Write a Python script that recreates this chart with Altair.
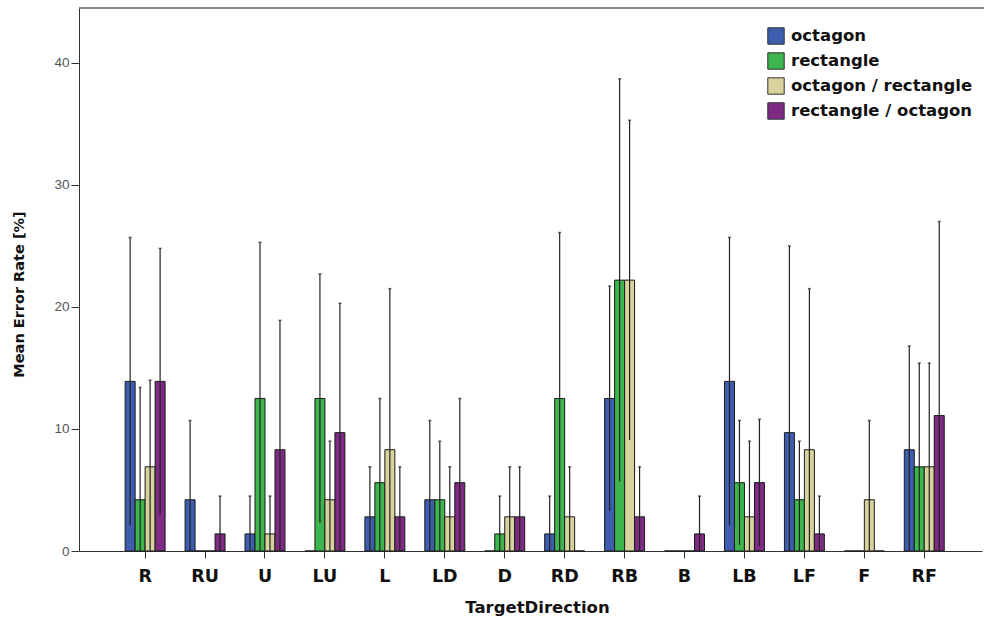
import altair as alt
import pandas as pd

categories = ["R", "RU", "U", "LU", "L", "LD", "D", "RD", "RB", "B", "LB", "LF", "F", "RF"]
series = ["octagon", "rectangle", "octagon / rectangle", "rectangle / octagon"]
colors = ["#3E5DAE", "#3CB54D", "#D8D29C", "#7D2B83"]

# mean error rate [%]
octagon = [13.9, 4.2, 1.4, 0.0, 2.8, 4.2, 0.0, 1.4, 12.5, 0.0, 13.9, 9.7, 0.0, 8.3]
rectangle = [4.2, 0.0, 12.5, 12.5, 5.6, 4.2, 1.4, 12.5, 22.2, 0.0, 5.6, 4.2, 0.0, 6.9]
octagon_rectangle = [6.9, 0.0, 1.4, 4.2, 8.3, 2.8, 2.8, 2.8, 22.2, 0.0, 2.8, 8.3, 4.2, 6.9]
rectangle_octagon = [13.9, 1.4, 8.3, 9.7, 2.8, 5.6, 2.8, 0.0, 2.8, 1.4, 5.6, 1.4, 0.0, 11.1]

# upper end of error bars (None = no error bar)
octagon_hi = [25.7, 10.7, 4.5, None, 6.9, 10.7, None, 4.5, 21.7, None, 25.7, 25.0, None, 16.8]
rectangle_hi = [13.4, None, 25.3, 22.7, 12.5, 9.0, 4.5, 26.1, 38.7, None, 10.7, 9.0, None, 15.4]
octagon_rectangle_hi = [14.0, None, 4.5, 9.0, 21.5, 6.9, 6.9, 6.9, 35.3, None, 9.0, 21.5, 10.7, 15.4]
rectangle_octagon_hi = [24.8, 4.5, 18.9, 20.3, 6.9, 12.5, 6.9, None, 6.9, 4.5, 10.8, 4.5, None, 27.0]

means = [octagon, rectangle, octagon_rectangle, rectangle_octagon]
highs = [octagon_hi, rectangle_hi, octagon_rectangle_hi, rectangle_octagon_hi]

rows = []
for s, m_list, h_list in zip(series, means, highs):
    for c, m, h in zip(categories, m_list, h_list):
        lo = None if h is None else max(0.0, 2 * m - h)
        rows.append({"TargetDirection": c, "series": s, "mean": m, "hi": h, "lo": lo})
df = pd.DataFrame(rows)
err = df.dropna(subset=["hi"])

W, H = 903, 543
YMAX = 44.5

x_scale = alt.Scale(paddingInner=1 / 3, paddingOuter=0.7, align=0.55)
x_axis = alt.Axis(
    title="TargetDirection",
    labelAngle=0,
    labelFont="DejaVu Sans",
    labelFontWeight="bold",
    labelFontSize=17.5,
    labelColor="#111",
    labelPadding=9,
    tickSize=7,
    tickColor="#333",
    domainColor="#333",
    titleFont="DejaVu Sans",
    titleFontWeight="bold",
    titleFontSize=16.5,
    titleColor="#111",
    titleX=458,
    titleY=56,
    titleAlign="center",
    titleBaseline="middle",
)
y_axis = alt.Axis(
    title="Mean Error Rate [%]",
    values=[0, 10, 20, 30, 40],
    labelFont="Liberation Sans",
    labelFontSize=13.5,
    labelColor="#555",
    labelPadding=2,
    tickSize=8,
    tickColor="#333",
    domainColor="#333",
    titleFont="DejaVu Sans",
    titleFontWeight="bold",
    titleFontSize=14.5,
    titleColor="#111",
    titleX=-60,
    titleY=286,
    titleAlign="center",
    titleBaseline="middle",
    titleAngle=-90,
)
xoff = alt.XOffset("series:N", sort=series, scale=alt.Scale(paddingInner=0, paddingOuter=0))
y_scale = alt.Scale(domain=[0, YMAX], nice=False, zero=True)

bars = alt.Chart(df).mark_bar(stroke="#1a1a1a", strokeWidth=1).encode(
    x=alt.X("TargetDirection:N", sort=categories, scale=x_scale, axis=x_axis),
    xOffset=xoff,
    y=alt.Y("mean:Q", scale=y_scale, axis=y_axis),
    color=alt.Color(
        "series:N",
        sort=series,
        scale=alt.Scale(domain=series, range=colors),
        legend=alt.Legend(
            title=None,
            orient="none",
            legendX=688,
            legendY=19,
            symbolType="square",
            symbolSize=270,
            symbolStrokeColor="#333",
            symbolStrokeWidth=1,
            symbolOpacity=1,
            labelFont="DejaVu Sans",
            labelFontWeight="bold",
            labelFontSize=16.5,
            labelColor="#111",
            labelOffset=6,
            labelLimit=400,
            rowPadding=3,
            padding=0,
        ),
    ),
)

rules = alt.Chart(err).mark_rule(color="#222", strokeWidth=1.2).encode(
    x=alt.X("TargetDirection:N", sort=categories, scale=x_scale, axis=x_axis),
    xOffset=xoff,
    y=alt.Y("lo:Q", scale=y_scale, axis=y_axis),
    y2="hi:Q",
)

caps = alt.Chart(err).mark_tick(color="#222", size=3, thickness=1.5).encode(
    x=alt.X("TargetDirection:N", sort=categories, scale=x_scale, axis=x_axis),
    xOffset=xoff,
    y=alt.Y("hi:Q", scale=y_scale, axis=y_axis),
)

frame_top = alt.Chart(df).mark_rule(color="#888", strokeWidth=2).encode(
    y=alt.value(0), x=alt.value(0), x2=alt.value(W + 2)
)

chart = (
    alt.layer(bars, rules, caps, frame_top)
    .properties(
        width=W,
        height=H,
        autosize=alt.AutoSizeParams(type="none"),
        padding={"left": 79, "top": 8, "right": 2, "bottom": 70},
        background="white",
    )
    .configure_view(stroke="#ffffff", strokeOpacity=0, strokeWidth=0)
    .configure_axis(grid=False)
)

chart.save("out.html", embed_options={"renderer": "svg", "actions": False})
